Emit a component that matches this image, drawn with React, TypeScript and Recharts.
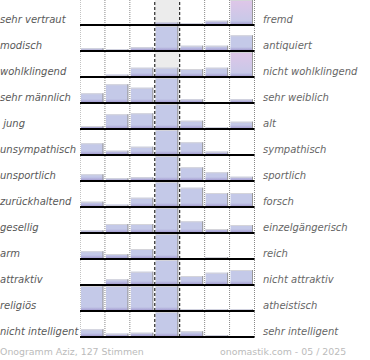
import { BarChart, Bar, XAxis, YAxis, ReferenceLine, ReferenceArea } from 'recharts';

const leftLabels = [
  'sehr vertraut', 'modisch', 'wohlklingend', 'sehr männlich', ' jung', 'unsympathisch', 'unsportlich',
  'zurückhaltend', 'gesellig', 'arm', 'attraktiv', 'religiös', 'nicht intelligent',
];
const rightLabels = [
  'fremd', 'antiquiert', 'nicht wohlklingend', 'sehr weiblich', 'alt', 'sympathisch', 'sportlich',
  'forsch', 'einzelgängerisch', 'reich', 'nicht attraktiv', 'atheistisch', 'sehr intelligent',
];
// vote share per column (7 steps), scale 0..25
const rowValues = [
  [0, 0.6, 0.6, 2.7, 1.7, 4.3, 25],
  [2.7, 1.7, 3.7, 25, 5.3, 5.3, 15.7],
  [1, 2.3, 9.3, 9.3, 8, 9.3, 25],
  [9.7, 18.7, 15.3, 25, 3.7, 0, 3.7],
  [3, 14.7, 15.7, 25, 8.3, 1.7, 7.3],
  [11.7, 4.3, 8.3, 25, 12.7, 3.3, 0],
  [6.7, 2.7, 3.7, 25, 13.7, 8.7, 4.3],
  [5.3, 2.3, 9.3, 25, 19.3, 14, 14],
  [2.7, 9, 9, 25, 11.7, 4, 8],
  [7.7, 5, 10, 25, 0, 2, 0],
  [0, 5.7, 13.3, 25, 9, 12.3, 15],
  [25, 25, 25, 25, 1.7, 1.7, 1.7],
  [7.7, 3.3, 4.3, 25, 5.7, 1.7, 0],
];
const pinkCells = ['0-6', '2-6'];
const columnCenters = [0.5, 1.5, 2.5, 3.5, 4.5, 5.5, 6.5];
const footerLeft = 'Onogramm Aziz, 127 Stimmen';
const footerRight = 'onomastik.com - 05 / 2025';

const ROW_H = 26;
const FONT = '"DejaVu Sans", Verdana, sans-serif';

function BarShape(props: any) {
  const { x, y, width, height, payload } = props;
  if (!height || height <= 0) return null;
  const strip = Math.min(4, height);
  return (
    <g>
      <rect x={x} y={y} width={width} height={height} fill={payload.pink ? 'url(#pinkFill)' : '#c4c9e8'} />
      <rect x={x} y={y + height - strip} width={width} height={strip} fill="url(#purpleEdge)" />
      <line x1={x} x2={x + width} y1={y + 0.5} y2={y + 0.5} stroke="#d4d4da" />
      <line x1={x + width - 0.5} x2={x + width - 0.5} y1={y} y2={y + height} stroke="#999" />
    </g>
  );
}

function Row({ index }: { index: number }) {
  const data = rowValues[index].map((v, c) => ({
    x: columnCenters[c],
    v,
    pink: pinkCells.includes(`${index}-${c}`),
  }));
  return (
    <BarChart width={174.5} height={ROW_H} data={data} margin={{ top: 0, right: 0, bottom: 1, left: 0 }}>
      <defs>
        <linearGradient id="pinkFill" x1="0" y1="0" x2="0" y2="1">
          <stop offset="0%" stopColor="#dfc6e8" />
          <stop offset="100%" stopColor="#c4c9e8" />
        </linearGradient>
        <linearGradient id="purpleEdge" x1="0" y1="0" x2="0" y2="1">
          <stop offset="0%" stopColor="#c4c9e8" />
          <stop offset="100%" stopColor="#9d92cc" />
        </linearGradient>
      </defs>
      <XAxis type="number" dataKey="x" domain={[0, 7]} hide />
      <YAxis domain={[0, 25]} hide allowDataOverflow />
      <ReferenceArea x1={3} x2={4} fill="#ececec" fillOpacity={1} stroke="none" />
      {[0, 1, 2, 5, 6, 7].map((k) => (
        <ReferenceLine key={k} x={k} stroke="#888" strokeDasharray="1 1" />
      ))}
      <Bar dataKey="v" barSize={25} shape={<BarShape />} isAnimationActive={false} />
      <ReferenceLine x={3} stroke="#000" strokeDasharray="3 2" />
      <ReferenceLine x={4} stroke="#000" strokeDasharray="3 2" />
      <ReferenceLine y={0} stroke="#000" strokeWidth={2} />
    </BarChart>
  );
}

export default function App() {
  const label = { position: 'absolute' as const, fontSize: 10, fontStyle: 'italic', lineHeight: '12px', whiteSpace: 'pre' as const };
  const footer = { position: 'absolute' as const, top: 346, fontSize: 9.4, lineHeight: '12px', color: '#bbb' };
  return (
    <div style={{ position: 'absolute', left: 0, top: 0, width: 370, height: 360, background: '#fff', fontFamily: FONT }}>
      {leftLabels.map((t, i) => (
        <div key={'l' + i} style={{ ...label, left: 0, top: ROW_H * i + 13.5, color: '#595959' }}>{t}</div>
      ))}
      {rightLabels.map((t, i) => (
        <div key={'r' + i} style={{ ...label, left: 263, top: ROW_H * i + 13.5, color: '#666' }}>{t}</div>
      ))}
      {rowValues.map((_, i) => (
        <div key={'c' + i} style={{ position: 'absolute', left: 80, top: ROW_H * i }}>
          <Row index={i} />
        </div>
      ))}
      <div style={{ ...footer, left: 0 }}>{footerLeft}</div>
      <div style={{ ...footer, left: 220 }}>{footerRight}</div>
    </div>
  );
}
